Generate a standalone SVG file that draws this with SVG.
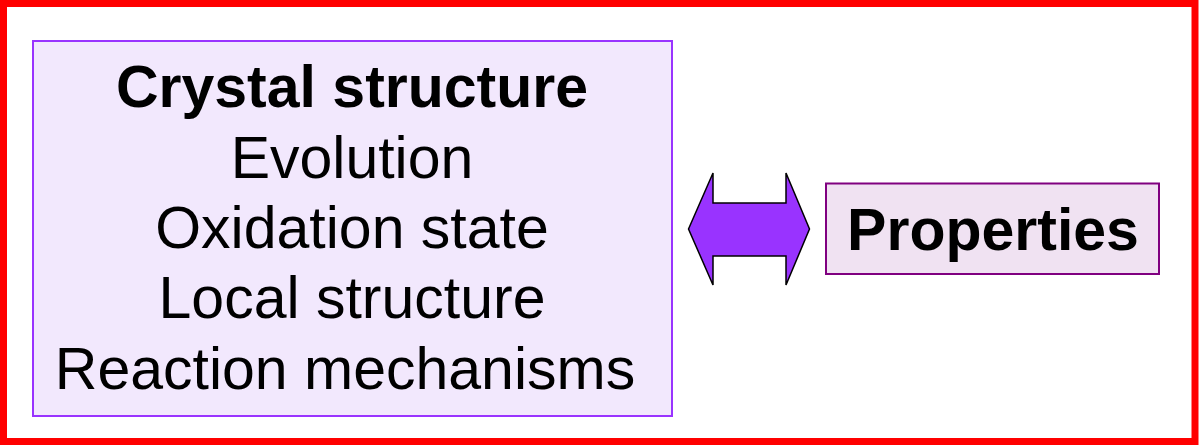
<svg xmlns="http://www.w3.org/2000/svg" width="1199" height="447" viewBox="0 0 1199 447">
<style>
.t{font-family:"Liberation Sans",Arial,sans-serif;font-size:59px;fill:#000;text-anchor:middle}
.b{font-weight:bold}
</style>
<rect x="0" y="0" width="1199" height="447" fill="#fff"/>
<rect x="3.5" y="3.5" width="1191.5" height="438" fill="none" stroke="#ff0000" stroke-width="7"/>
<g id="node-structure">
<rect x="33" y="41" width="639" height="375" fill="#f2e8fd" stroke="#9933ff" stroke-width="2"/>
<text class="t b" x="352" y="107">Crystal structure</text>
<text class="t" x="352" y="178">Evolution</text>
<text class="t" x="352" y="248">Oxidation state</text>
<text class="t" x="352" y="318">Local structure</text>
<text class="t" x="345" y="389">Reaction mechanisms</text>
</g>
<g id="node-properties">
<rect x="826" y="183.5" width="333" height="90.5" fill="#f0e2f2" stroke="#800080" stroke-width="2"/>
<text class="t b" x="993" y="250">Properties</text>
</g>
<g id="connectors">
<path d="M688.5,229 L713,173 L713,203 L786,203 L786,173 L809.5,229 L786,285 L786,256 L713,256 L713,285 Z" fill="#9933ff" stroke="#000" stroke-width="1.5" stroke-linejoin="miter"/>
</g>
</svg>
